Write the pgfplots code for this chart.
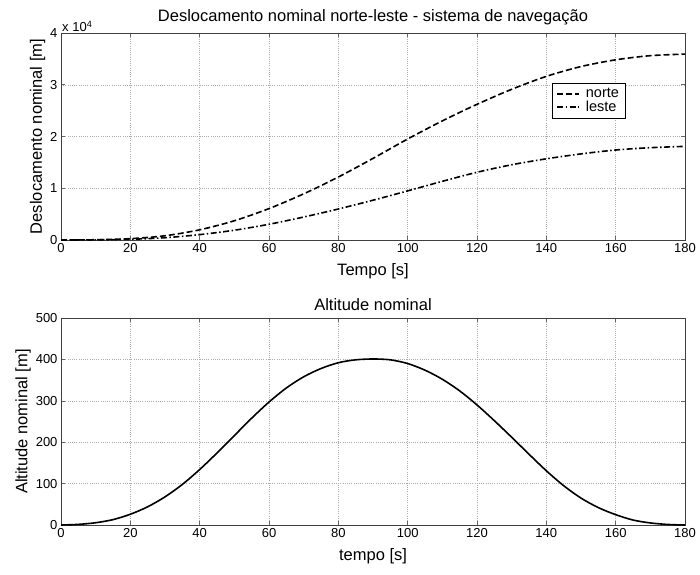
\documentclass[border=0pt]{standalone}
\usepackage{fontspec}
\setmainfont{Liberation Sans}
\usepackage{pgfplots}
\pgfplotsset{compat=1.18}

% norte / leste displacement [m], altitude [m]
\pgfplotstableread{
t     norte   leste
0     0       0
10    50      30
20    260     140
30    820     440
40    1970    1040
50    3720    1890
60    6070    3040
70    8920    4440
80    12170   5990
90    15770   7690
100   19520   9490
110   23020   11340
120   26220   13090
130   29120   14540
140   31620   15690
150   33520   16640
160   34820   17390
170   35620   17840
180   35920   18090
}\despl

\pgfplotstableread{
t    h
0    0
5    1.5
10   5.5
15   13
20   26
25   44
30   68
35   98
40   134
45   174
50   216
55   258
60   297
65   331
70   358
75   378
80   392
85   399
90   401
95   399
100  390
105  374
110  352
115  324
120  290
125  252
130  212
135  171
140  131
145  95
150  65
155  42
160  25
165  12
170  5
175  1.3
180  0
}\alt

\begin{document}
\begin{tikzpicture}
\pgfplotsset{matlab/.style={
  scale only axis, width=624pt, height=207pt, anchor=south west,
  xmin=0, xmax=180, xtick={0,20,...,180},
  clip mode=individual,
  grid=major, grid style={gray!65, line width=0.5pt, dash pattern=on 0.7pt off 1.5pt},
  tick pos=both, tick align=inside, major tick length=4pt,
  axis line style={black!75, line width=0.6pt},
  tick style={black!60, line width=0.6pt},
  /pgf/number format/assume math mode=true,
  ticklabel style={font=\fontsize{13}{15}\selectfont},
  label style={font=\fontsize{16.5}{19}\selectfont},
  xlabel style={yshift=-4pt},
  ylabel shift=-2pt,
  title style={font=\fontsize{16.5}{19}\selectfont, at={(0.5,1)}, anchor=south, yshift=-2pt},
}}

\begin{axis}[matlab, at={(61pt,334pt)},
  ymin=0, ymax=40000, ytick={0,10000,20000,30000,40000},
  yticklabels={0,1,2,3,4}, scaled y ticks=false,
  title={Deslocamento nominal norte-leste - sistema de navegação},
  xlabel={Tempo [s]}, ylabel={Deslocamento nominal [m]},
  legend style={at={(0.787,0.758)}, anchor=north west, draw=black, fill=white,
    inner xsep=4pt, inner ysep=3pt, row sep=-2pt, column sep=4pt,
    nodes={font=\fontsize{14.5}{16}\selectfont}},
  legend image code/.code={\draw[#1] (0pt,0pt) -- (22pt,0pt);},
  legend cell align=left,
]
\addplot[black, line width=1.6pt, dash pattern=on 6pt off 3pt, smooth] table[x=t, y=norte] {\despl};
\addlegendentry{norte}
\addplot[black, line width=1.6pt, dash pattern=on 6pt off 2.5pt on 1.5pt off 2.5pt, smooth] table[x=t, y=leste] {\despl};
\addlegendentry{leste}
\node[anchor=south west, inner sep=1pt, font=\fontsize{13}{15}\selectfont]
  at (rel axis cs:0,1) {x 10\textsuperscript{4}};
\end{axis}

\begin{axis}[matlab, at={(61pt,49pt)},
  ymin=0, ymax=500, ytick={0,100,...,500},
  title={Altitude nominal},
  xlabel={tempo [s]}, ylabel={Altitude nominal [m]},
]
\addplot[black, line width=1.6pt, smooth] table[x=t, y=h] {\alt};
\end{axis}
\path (0pt,0pt) rectangle (700pt,574pt);
\end{tikzpicture}
\end{document}
